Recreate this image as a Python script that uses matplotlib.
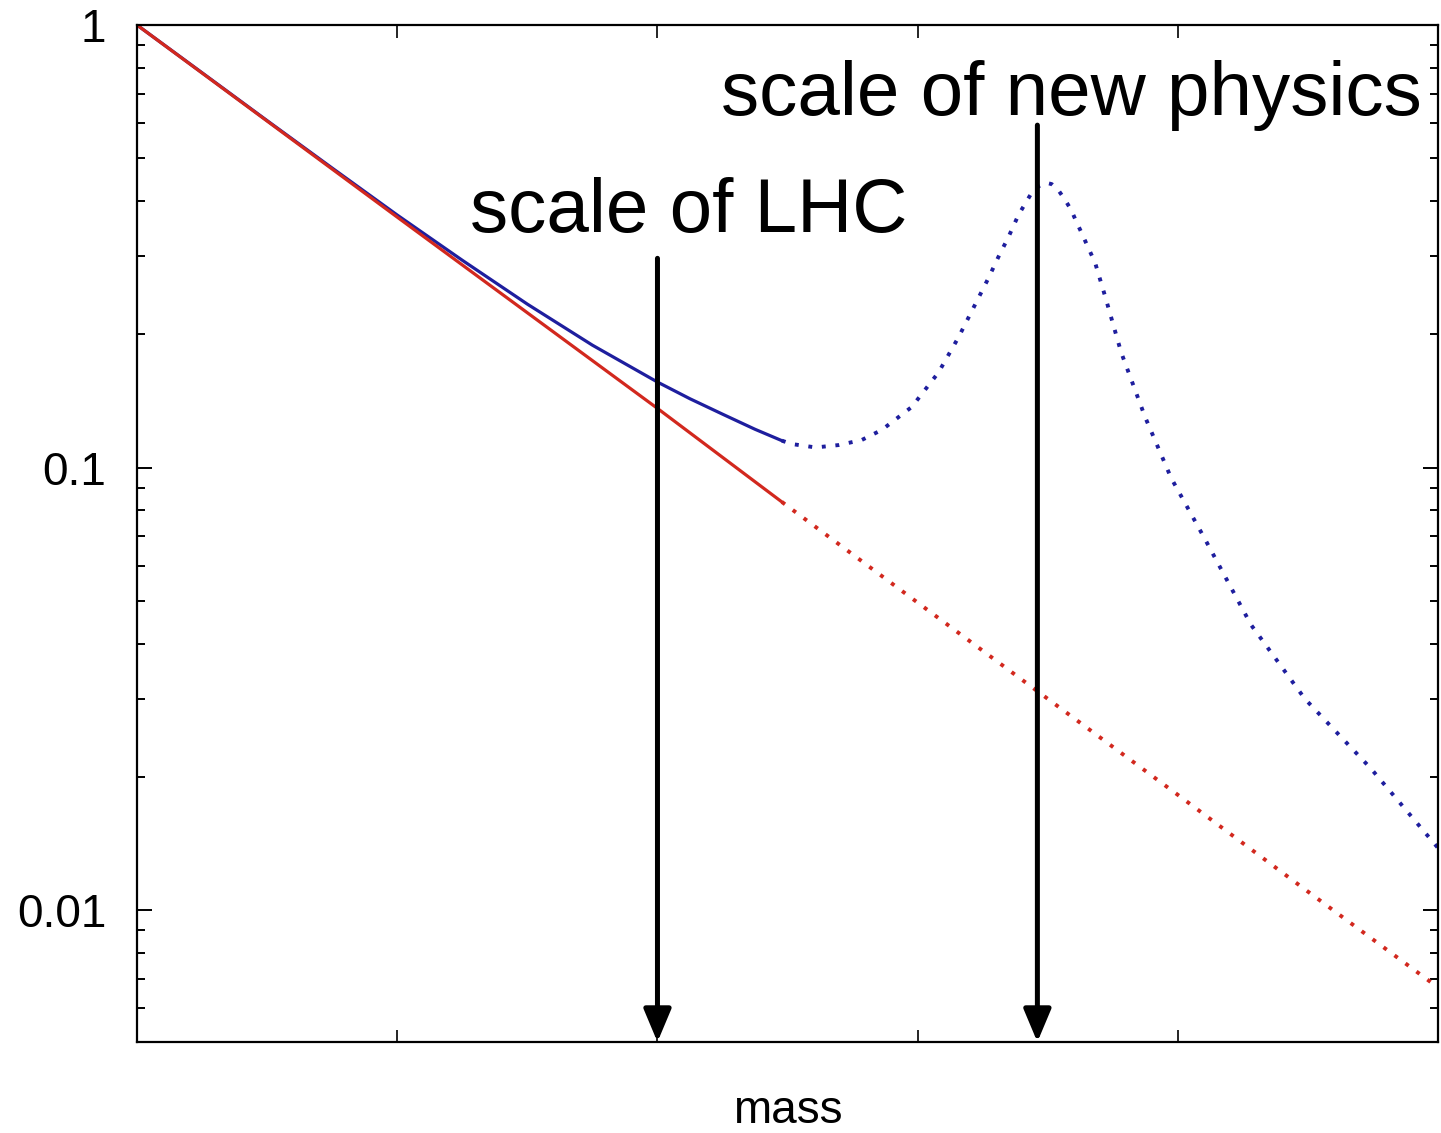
import matplotlib
matplotlib.use("Agg")
import matplotlib.pyplot as plt

plt.rcParams['font.family'] = ['Liberation Sans', 'DejaVu Sans']

# values (x in arbitrary mass units, y on log scale)
blue_solid_x = [0.0, 0.25, 0.5, 0.75, 1.0, 1.25, 1.5, 1.75, 2.0, 2.125,
                2.25, 2.375, 2.478]
blue_solid_y = [1.0, 0.780, 0.608, 0.475, 0.372, 0.294, 0.234, 0.189, 0.156,
                0.143, 0.132, 0.122, 0.115]

blue_dot_x = [2.478, 2.516, 2.608, 2.697, 2.785, 2.862, 2.977, 3.080, 3.157,
              3.234, 3.272, 3.310, 3.349, 3.387, 3.433, 3.465, 3.494, 3.515,
              3.540, 3.567, 3.590, 3.610, 3.629, 3.648, 3.682, 3.721, 3.782,
              3.874, 3.974, 4.104, 4.281, 4.488, 4.741, 5.0]
blue_dot_y = [0.115, 0.113, 0.111, 0.1124, 0.1154, 0.1216, 0.137, 0.164, 0.197,
              0.242, 0.268, 0.299, 0.332, 0.372, 0.413, 0.432, 0.440, 0.437,
              0.424, 0.402, 0.382, 0.359, 0.340, 0.321, 0.290, 0.243, 0.182,
              0.130, 0.0947, 0.0689, 0.0441, 0.0300, 0.0209, 0.0138]

red_solid_x = [0.0, 1.0, 2.0, 2.478]
red_solid_y = [1.0, 0.368, 0.136, 0.0836]

red_dot_x = [2.478, 3.0, 3.5, 4.0, 4.5, 5.0]
red_dot_y = [0.0836, 0.0495, 0.0300, 0.0182, 0.0110, 0.00668]

lhc_x = 2.0
new_physics_x = 3.46
y_labels = ["0.01", "0.1", "1"]
y_ticks = [0.01, 0.1, 1.0]

blue = '#1e1e9e'
red = '#d2281e'
dots = (0, (1, 2.5))

fig = plt.figure(figsize=(14.41, 11.33), dpi=100)
ax = fig.add_axes([0.0951, 0.0803, 0.9029, 0.8976])

ax.plot(blue_solid_x, blue_solid_y, color=blue, lw=2.3)
ax.plot(blue_dot_x, blue_dot_y, color=blue, lw=2.8, linestyle=dots)
ax.plot(red_solid_x, red_solid_y, color=red, lw=2.3)
ax.plot(red_dot_x, red_dot_y, color=red, lw=2.8, linestyle=dots)

ax.set_yscale('log')
ax.set_xlim(0, 5)
ax.set_ylim(0.00503, 1.0)

# arrows marking the two scales
arrow = dict(arrowstyle='-|>,head_length=1.0,head_width=0.42', lw=3.6,
             color='black', shrinkA=0, shrinkB=0, mutation_scale=20)
ax.annotate('', xy=(lhc_x, 0.00503), xytext=(lhc_x, 0.297), arrowprops=arrow)
ax.annotate('', xy=(new_physics_x, 0.00503), xytext=(new_physics_x, 0.594),
            arrowprops=arrow)

ax.text(2.121, 0.340, 'scale of LHC', fontsize=55, ha='center', va='baseline')
ax.text(3.59, 0.626, 'scale of new physics', fontsize=55, ha='center',
        va='baseline')

ax.set_yticks(y_ticks)
ax.set_yticklabels(y_labels)
ax.set_xticks([1, 2, 3, 4])
ax.set_xticklabels([])
ax.tick_params(axis='y', which='major', direction='in', length=11, width=1.4,
               left=True, right=True, labelsize=33, pad=22)
ax.tick_params(axis='y', which='minor', direction='in', length=6, width=1.4,
               left=True, right=True)
ax.tick_params(axis='x', which='major', direction='in', length=9, width=1.2,
               top=True, bottom=True)
ax.tick_params(axis='x', which='minor', bottom=False, top=False)
for s in ax.spines.values():
    s.set_linewidth(1.6)

ax.set_xlabel('mass', fontsize=33)
ax.xaxis.set_label_coords(0.5, -0.046)

fig.savefig('out.png', dpi=100)
